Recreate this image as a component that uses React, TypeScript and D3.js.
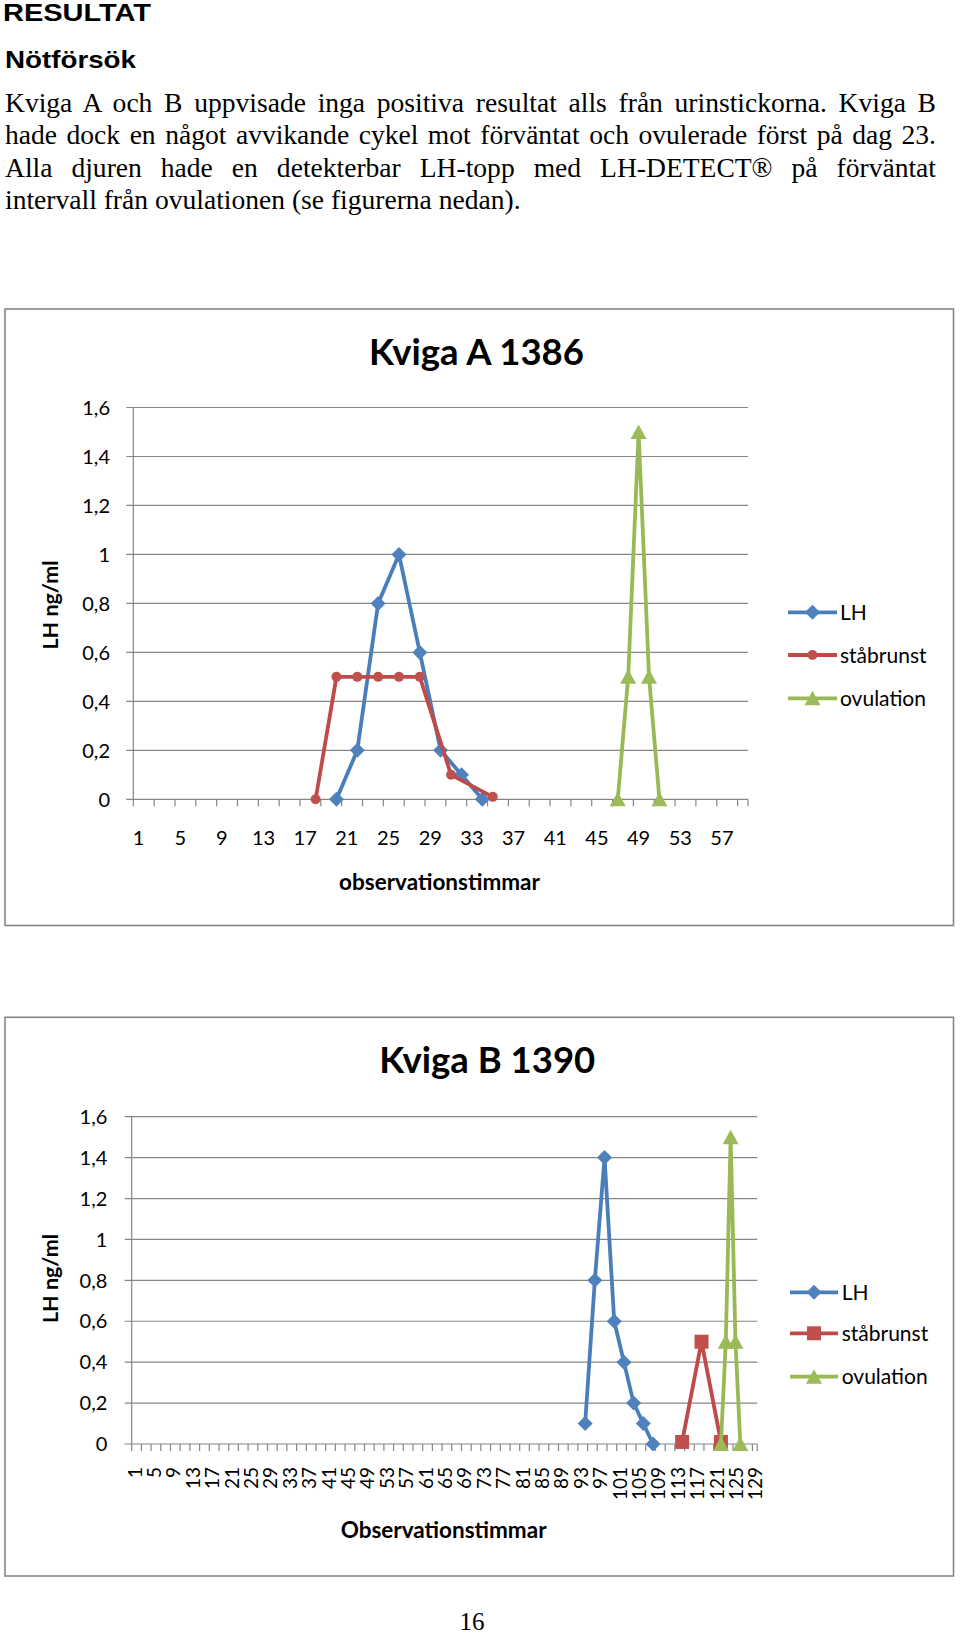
import React, { useEffect, useRef } from "react";
import * as d3 from "d3";

// ---------- Data ----------
const yTickValues = [0, 0.2, 0.4, 0.6, 0.8, 1, 1.2, 1.4, 1.6];
const yTickLabels = ["0", "0,2", "0,4", "0,6", "0,8", "1", "1,2", "1,4", "1,6"];
const legendNames = ["LH", "ståbrunst", "ovulation"];

// Kviga A 1386
const categoryCountA = 59;
const xLabelsA = [1, 5, 9, 13, 17, 21, 25, 29, 33, 37, 41, 45, 49, 53, 57];
const lhHoursA = [20, 22, 24, 26, 28, 30, 32, 34];
const lhValuesA = [0, 0.2, 0.8, 1.0, 0.6, 0.2, 0.1, 0];
const estrusHoursA = [18, 20, 22, 24, 26, 28, 31, 35];
const estrusValuesA = [0, 0.5, 0.5, 0.5, 0.5, 0.5, 0.1, 0.01];
const ovulationHoursA = [47, 48, 49, 50, 51];
const ovulationValuesA = [0, 0.5, 1.5, 0.5, 0];

// Kviga B 1390
const categoryCountB = 129;
const xLabelsB = [1, 5, 9, 13, 17, 21, 25, 29, 33, 37, 41, 45, 49, 53, 57, 61, 65, 69, 73, 77, 81, 85, 89, 93, 97, 101, 105, 109, 113, 117, 121, 125, 129];
const lhHoursB = [94, 96, 98, 100, 102, 104, 106, 108];
const lhValuesB = [0.1, 0.8, 1.4, 0.6, 0.4, 0.2, 0.1, 0];
const estrusHoursB = [114, 118, 122];
const estrusValuesB = [0.01, 0.5, 0.01];
const ovulationHoursB = [122, 123, 124, 125, 126];
const ovulationValuesB = [0, 0.5, 1.5, 0.5, 0];

const bodyLines = [
  "Kviga A och B uppvisade inga positiva resultat alls från urinstickorna. Kviga B",
  "hade dock en något avvikande cykel mot förväntat och ovulerade först på dag 23.",
  "Alla djuren hade en detekterbar LH-topp med LH-DETECT® på förväntat",
  "intervall från ovulationen (se figurerna nedan).",
];

// ---------- Styles ----------
const FONT = "Lato, 'Open Sans', sans-serif";
const GRID = "#868686";
const COLORS = {
  lh: { line: "#4A7EBB", fill: "#4F81BD" },
  estrus: { line: "#BE4B48", fill: "#C0504D" },
  ovulation: { line: "#98B954", fill: "#9BBB59" },
};

type MarkerKind = "diamond" | "circle" | "square" | "triangle";

function Marker({ kind, x, y, color }: { kind: MarkerKind; x: number; y: number; color: string }) {
  if (kind === "diamond") {
    const r = 7.5;
    return <path d={`M${x},${y - r}L${x + r},${y}L${x},${y + r}L${x - r},${y}Z`} fill={color} />;
  }
  if (kind === "circle") return <circle cx={x} cy={y} r={5} fill={color} />;
  if (kind === "square") return <rect x={x - 7} y={y - 7} width={14} height={14} fill={color} />;
  return <path d={`M${x},${y - 7.5}L${x + 8},${y + 7}L${x - 8},${y + 7}Z`} fill={color} />;
}

type SeriesDef = { hours: number[]; values: number[]; colors: { line: string; fill: string }; marker: MarkerKind };

type ChartLayout = {
  frame: { x: number; y: number; w: number; h: number };
  plot: { left: number; right: number; top: number; bottom: number };
  nCats: number;
  xLabels: number[];
  rotated: boolean;
  labelY: number;
  title: string;
  titleX: number;
  titleY: number;
  xTitle: string;
  xTitleX: number;
  xTitleY: number;
  yTitleX: number;
  yTitleY: number;
  yLabelRight: number;
  legend: { x1: number; x2: number; textX: number; ys: number[] };
};

function Chart({ layout, series }: { layout: ChartLayout; series: SeriesDef[] }) {
  const { plot, frame } = layout;
  const x = d3.scaleLinear().domain([0.5, layout.nCats + 0.5]).range([plot.left, plot.right]);
  const y = d3.scaleLinear().domain([0, 1.6]).range([plot.bottom, plot.top]);
  const line = d3
    .line<[number, number]>()
    .x((d) => x(d[0]))
    .y((d) => y(d[1]));
  const tickBounds: number[] = [];
  for (let b = 0.5; b <= layout.nCats + 0.5; b += 2) tickBounds.push(b);
  if (tickBounds[tickBounds.length - 1] !== layout.nCats + 0.5) tickBounds.push(layout.nCats + 0.5);

  return (
    <g>
      <rect x={frame.x} y={frame.y} width={frame.w} height={frame.h} fill="#fff" stroke={GRID} strokeWidth={1.6} />
      <text x={layout.titleX} y={layout.titleY} textAnchor="middle" fontFamily={FONT} fontWeight="bold" fontSize={36.5} fill="#000">
        {layout.title}
      </text>
      {yTickValues.map((v, i) => (
        <g key={"gy" + i}>
          <line x1={plot.left - 7} x2={plot.right} y1={y(v)} y2={y(v)} stroke={GRID} strokeWidth={1.2} />
          <text x={layout.yLabelRight} y={y(v)} dy="0.36em" textAnchor="end" fontFamily={FONT} fontSize={20} fill="#000">
            {yTickLabels[i]}
          </text>
        </g>
      ))}
      <line x1={plot.left} x2={plot.left} y1={plot.top} y2={plot.bottom} stroke={GRID} strokeWidth={1.2} />
      {tickBounds.map((b, i) => (
        <line key={"tx" + i} x1={x(b)} x2={x(b)} y1={plot.bottom} y2={plot.bottom + 7} stroke={GRID} strokeWidth={1.2} />
      ))}
      {layout.xLabels.map((c) =>
        layout.rotated ? (
          <text
            key={"xl" + c}
            transform={`translate(${x(c)},${layout.labelY}) rotate(-90)`}
            textAnchor="end"
            dominantBaseline="central"
            fontFamily={FONT}
            fontSize={19}
            fill="#000"
          >
            {c}
          </text>
        ) : (
          <text key={"xl" + c} x={x(c)} y={layout.labelY} textAnchor="middle" fontFamily={FONT} fontSize={20} fill="#000">
            {c}
          </text>
        )
      )}
      <text x={layout.xTitleX} y={layout.xTitleY} textAnchor="middle" fontFamily={FONT} fontWeight="bold" fontSize={22.5} fill="#000">
        {layout.xTitle}
      </text>
      <text
        transform={`translate(${layout.yTitleX},${layout.yTitleY}) rotate(-90)`}
        textAnchor="middle"
        dominantBaseline="central"
        fontFamily={FONT}
        fontWeight="bold"
        fontSize={21.5}
        fill="#000"
      >
        LH ng/ml
      </text>
      {series.map((s, si) => {
        const pts: [number, number][] = s.hours.map((h, i) => [h, s.values[i]]);
        return (
          <g key={"s" + si}>
            <path d={line(pts) || ""} fill="none" stroke={s.colors.line} strokeWidth={3.8} strokeLinejoin="round" strokeLinecap="round" />
            {pts.map((p, i) => (
              <Marker key={i} kind={s.marker} x={x(p[0])} y={y(p[1])} color={s.colors.fill} />
            ))}
          </g>
        );
      })}
      {series.map((s, si) => {
        const ly = layout.legend.ys[si];
        const mid = (layout.legend.x1 + layout.legend.x2) / 2;
        return (
          <g key={"lg" + si}>
            <line x1={layout.legend.x1} x2={layout.legend.x2} y1={ly} y2={ly} stroke={s.colors.line} strokeWidth={3.8} />
            <Marker kind={s.marker} x={mid} y={ly} color={s.colors.fill} />
            <text x={layout.legend.textX} y={ly} dy="0.36em" fontFamily={FONT} fontSize={21} fill="#000">
              {legendNames[si]}
            </text>
          </g>
        );
      })}
    </g>
  );
}

const layoutA: ChartLayout = {
  frame: { x: 5, y: 309, w: 948.5, h: 616.5 },
  plot: { left: 133.3, right: 748, top: 407.5, bottom: 799.3 },
  nCats: categoryCountA,
  xLabels: xLabelsA,
  rotated: false,
  labelY: 845,
  title: "Kviga A 1386",
  titleX: 476.5,
  titleY: 365,
  xTitle: "observationstimmar",
  xTitleX: 439.5,
  xTitleY: 890,
  yTitleX: 50,
  yTitleY: 605,
  yLabelRight: 110,
  legend: { x1: 788, x2: 837, textX: 840, ys: [612.3, 655, 698.3] },
};

const layoutB: ChartLayout = {
  frame: { x: 5, y: 1017.3, w: 948.5, h: 558.7 },
  plot: { left: 131.7, right: 757.3, top: 1116.7, bottom: 1444 },
  nCats: categoryCountB,
  xLabels: xLabelsB,
  rotated: true,
  labelY: 1467,
  title: "Kviga B 1390",
  titleX: 487.3,
  titleY: 1073.3,
  xTitle: "Observationstimmar",
  xTitleX: 443.6,
  xTitleY: 1538,
  yTitleX: 50,
  yTitleY: 1278.5,
  yLabelRight: 107.3,
  legend: { x1: 790, x2: 838, textX: 841.7, ys: [1292.3, 1333.3, 1376.7] },
};

const seriesA: SeriesDef[] = [
  { hours: lhHoursA, values: lhValuesA, colors: COLORS.lh, marker: "diamond" },
  { hours: estrusHoursA, values: estrusValuesA, colors: COLORS.estrus, marker: "circle" },
  { hours: ovulationHoursA, values: ovulationValuesA, colors: COLORS.ovulation, marker: "triangle" },
];
const seriesB: SeriesDef[] = [
  { hours: lhHoursB, values: lhValuesB, colors: COLORS.lh, marker: "diamond" },
  { hours: estrusHoursB, values: estrusValuesB, colors: COLORS.estrus, marker: "square" },
  { hours: ovulationHoursB, values: ovulationValuesB, colors: COLORS.ovulation, marker: "triangle" },
];

const BODY_BASELINES = [112, 144, 177, 209];
const BODY_JUSTIFY = [true, true, true, false];
const BODY_LEFT = 5;
const BODY_RIGHT = 936;
const LAST_LINE_RIGHT = 521;

export default function App() {
  const bodyRef = useRef<SVGGElement>(null);

  useEffect(() => {
    if (!bodyRef.current) return;
    const nodes = d3.select(bodyRef.current).selectAll<SVGTextElement, unknown>("text").nodes();
    const last = nodes[nodes.length - 1];
    const natLast = last.getComputedTextLength();
    const sx = (LAST_LINE_RIGHT - BODY_LEFT) / natLast;
    nodes.forEach((t, i) => {
      t.setAttribute("transform", `translate(${BODY_LEFT},${BODY_BASELINES[i]}) scale(${sx},1)`);
      if (BODY_JUSTIFY[i]) {
        const nat = t.getComputedTextLength();
        const spaces = (bodyLines[i].match(/ /g) || []).length;
        const ws = ((BODY_RIGHT - BODY_LEFT) / sx - nat) / spaces;
        t.setAttribute("word-spacing", String(ws));
      }
    });
  }, []);

  return (
    <svg
      width={960}
      height={1635}
      viewBox="0 0 960 1635"
      style={{ position: "absolute", left: 0, top: 0, display: "block", background: "#fff" }}
    >
      <rect x={0} y={0} width={960} height={1635} fill="#fff" />
      <text x={3} y={21} fontFamily="'Liberation Sans', Arial, sans-serif" fontWeight="bold" fontSize={24} textLength={148} lengthAdjust="spacingAndGlyphs">
        RESULTAT
      </text>
      <text x={5} y={68} fontFamily="'Liberation Sans', Arial, sans-serif" fontWeight="bold" fontSize={24} textLength={131} lengthAdjust="spacingAndGlyphs">
        Nötförsök
      </text>
      <g ref={bodyRef}>
        {bodyLines.map((l, i) => (
          <text key={i} x={0} y={0} transform={`translate(${BODY_LEFT},${BODY_BASELINES[i]})`} fontFamily="'Liberation Serif', 'Times New Roman', serif" fontSize={27} fill="#000">
            {l}
          </text>
        ))}
      </g>
      <Chart layout={layoutA} series={seriesA} />
      <Chart layout={layoutB} series={seriesB} />
      <text x={472} y={1630} textAnchor="middle" fontFamily="'Liberation Serif', 'Times New Roman', serif" fontSize={25} fill="#000">
        16
      </text>
    </svg>
  );
}
